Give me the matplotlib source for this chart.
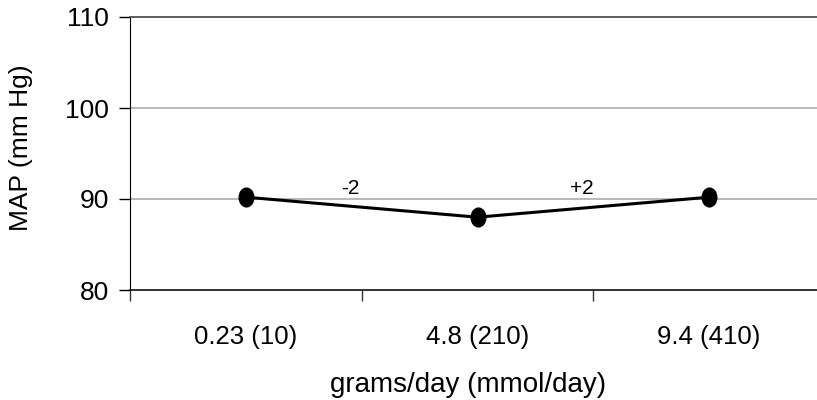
import matplotlib
matplotlib.use("Agg")
import matplotlib.pyplot as plt
from matplotlib.path import Path
from matplotlib.transforms import Affine2D

categories = ["0.23 (10)", "4.8 (210)", "9.4 (410)"]
map_values = [90.2, 88.0, 90.2]
change_labels = ["-2", "+2"]
y_ticks = [80, 90, 100, 110]

plt.rcParams['font.family'] = ['Liberation Sans', 'DejaVu Sans']

fig = plt.figure(figsize=(8.17, 4.0), dpi=100)
W, H = 817, 400
left, right, top, bottom = 130, 825, 17, 290
ax = fig.add_axes([left / W, 1 - bottom / H, (right - left) / W, (bottom - top) / H])

x = [i + 0.5 for i in range(len(categories))]
ax.set_xlim(0, len(categories))
ax.set_ylim(80, 110)

for yv in [90, 100]:
    ax.axhline(yv, color='#a6a6a6', lw=1.1, zorder=1)

ellipse = Path.unit_circle().transformed(Affine2D().scale(0.78, 1.0))
ax.plot(x, map_values, color='black', lw=2.2, zorder=3, clip_on=False)
ax.plot(x, map_values, linestyle='none', marker=ellipse, markersize=13.5,
        color='black', zorder=4, clip_on=False)

# change annotations between points
for i, lab in enumerate(change_labels):
    xm = (x[i] + x[i + 1]) / 2 - 0.05
    ym = max(map_values[i], map_values[i + 1]) + 0.9
    ax.text(xm, ym, lab, ha='center', va='center', fontsize=15)

ax.set_yticks(y_ticks)
ax.set_yticklabels([str(v) for v in y_ticks], fontsize=19)
ax.set_xticks(x)
ax.set_xticklabels(categories, fontsize=18.5)
ax.tick_params(axis='x', length=0, pad=25)
ax.set_xticks(range(len(categories) + 1), minor=True)
ax.tick_params(axis='x', which='minor', length=8, width=1, color='#333333', direction='out')
ax.tick_params(axis='y', length=8, width=1, direction='out', pad=7)

ax.spines['right'].set_visible(False)
ax.spines['top'].set_color('#444444')
ax.spines['top'].set_linewidth(1.2)
ax.spines['left'].set_color('black')
ax.spines['bottom'].set_color('#222222')
ax.spines['bottom'].set_linewidth(1.3)

ax.set_ylabel("MAP (mm Hg)", fontsize=19, va='center')
ax.yaxis.set_label_coords((21 - left) / (right - left), (bottom - 147.5) / (bottom - top))
ax.set_xlabel("grams/day (mmol/day)", fontsize=20, va='center')
ax.xaxis.set_label_coords((468 - left) / (right - left), (bottom - 385) / (bottom - top))

fig.savefig("out.png", dpi=100)
